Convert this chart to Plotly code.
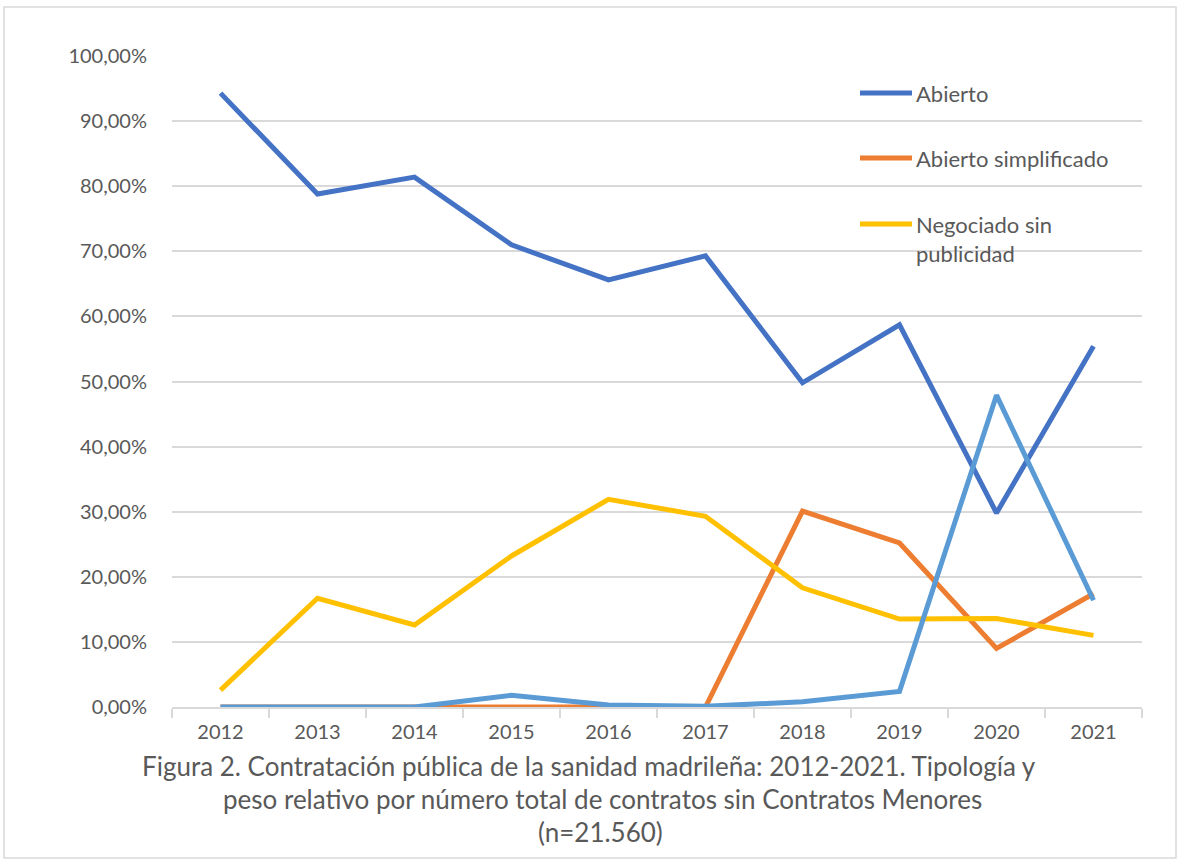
import plotly.graph_objects as go

years = ["2012", "2013", "2014", "2015", "2016", "2017", "2018", "2019", "2020", "2021"]
abierto = [94.3, 78.8, 81.4, 71.0, 65.6, 69.3, 49.8, 58.7, 29.8, 55.4]
abierto_simplificado = [0.0, 0.0, 0.0, 0.0, 0.1, 0.0, 30.1, 25.2, 9.0, 17.4]
negociado = [2.6, 16.7, 12.6, 23.2, 31.9, 29.3, 18.3, 13.5, 13.6, 11.0]
otros = [0.0, 0.0, 0.0, 1.8, 0.3, 0.1, 0.8, 2.4, 47.9, 16.4]

series_names = ["Abierto", "Abierto simplificado", "Negociado sin<br>publicidad", "Otros"]
series_values = [abierto, abierto_simplificado, negociado, otros]
series_colors = ["#4472C4", "#ED7D31", "#FFC000", "#5B9BD5"]
in_legend = [True, True, True, False]

y_tick_vals = [0, 10, 20, 30, 40, 50, 60, 70, 80, 90, 100]
y_tick_text = ["0,00%", "10,00%", "20,00%", "30,00%", "40,00%", "50,00%",
               "60,00%", "70,00%", "80,00%", "90,00%", "100,00%"]

caption_lines = [
    "Figura 2. Contratación pública de la sanidad madrileña: 2012-2021. Tipología y",
    "peso relativo por número total de contratos sin Contratos Menores",
    "(n=21.560)",
]

W, H = 1180, 860
L, R, T, B = 172, 38, 56, 153
pw, ph = W - L - R, H - T - B

def px_x(p):
    return (p - L) / pw

def px_y(p):
    return (H - B - p) / ph

FONT = "Lato"
GRAY = "#595959"

fig = go.Figure()
for name, vals, col in zip(series_names, series_values, series_colors):
    fig.add_trace(go.Scatter(
        x=years, y=vals, mode="lines", name=name.replace("<br>", " "),
        line=dict(color=col, width=5), showlegend=False,
    ))

shapes = []
annotations = []
# manual legend
leg_y = [93, 158, 224]
for i, (name, col, show) in enumerate(zip(series_names, series_colors, in_legend)):
    if not show:
        continue
    y = leg_y[i]
    shapes.append(dict(type="line", xref="paper", yref="paper",
                       x0=px_x(860), x1=px_x(912), y0=px_y(y), y1=px_y(y),
                       line=dict(color=col, width=5)))
    annotations.append(dict(xref="paper", yref="paper", x=px_x(914), y=px_y(y - 15),
                            xanchor="left", yanchor="top", text=name, showarrow=False,
                            align="left",
                            font=dict(family=FONT, size=22, color=GRAY)))

# outer border
shapes.append(dict(type="rect", xref="paper", yref="paper",
                   x0=px_x(4), x1=px_x(1176), y0=px_y(858), y1=px_y(7),
                   line=dict(color="#D9D9D9", width=1.5), fillcolor="rgba(0,0,0,0)",
                   layer="below"))

cap_y = [766, 799, 832]
cap_x = [589, 602, 600]
for line, cx, cy in zip(caption_lines, cap_x, cap_y):
    annotations.append(dict(xref="paper", yref="paper", x=px_x(cx), y=px_y(cy),
                            xanchor="center", yanchor="middle", text=line, showarrow=False,
                            font=dict(family=FONT, size=26, color=GRAY)))

fig.update_layout(
    width=W, height=H,
    margin=dict(l=L, r=R, t=T, b=B),
    paper_bgcolor="white", plot_bgcolor="white",
    font=dict(family=FONT, color=GRAY),
    shapes=shapes, annotations=annotations,
    showlegend=False,
)
fig.update_xaxes(
    type="category", categoryorder="array", categoryarray=years,
    tickson="boundaries", ticks="outside", ticklen=9, tickcolor="#D9D9D9", tickwidth=1.5,
    showline=True, linecolor="#D9D9D9", linewidth=1.5,
    showgrid=False, zeroline=False,
    tickfont=dict(family=FONT, size=20, color=GRAY),
    ticklabelstandoff=6,
    range=[-0.5, 9.5],
)
fig.update_yaxes(
    range=[0, 100], tickvals=y_tick_vals, ticktext=y_tick_text,
    showgrid=True, gridcolor="#D9D9D9", gridwidth=1.5,
    zeroline=False, showline=False,
    ticks="outside", ticklen=20, tickcolor="rgba(0,0,0,0)",
    tickfont=dict(family=FONT, size=20, color=GRAY),
)

fig.write_html("out.html")
